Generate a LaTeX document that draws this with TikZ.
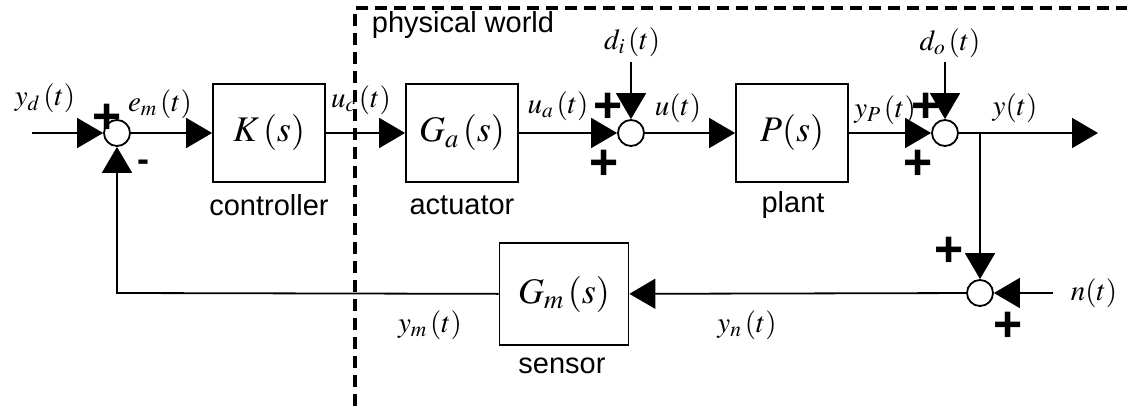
\documentclass[tikz,border=0pt]{standalone}
\usepackage{mathptmx}
\usepackage{fontspec}
\setmainfont{Liberation Sans}
\usetikzlibrary{arrows.meta, positioning, calc}

\begin{document}
\begin{tikzpicture}[x=1pt, y=-1pt,
  block/.style={draw, line width=1.8pt, minimum width=112pt, minimum height=98pt, inner sep=0pt, font=\fontsize{36}{36}\selectfont},
  sumnode/.style={draw, circle, line width=1.8pt, minimum size=26pt, inner sep=0pt},
  sig/.style={inner sep=0pt, font=\fontsize{29}{29}\selectfont},
  sgn/.style={inner sep=0pt, font=\fontsize{50}{50}\selectfont\bfseries\itshape},
  caption/.style={inner sep=0pt, font=\fontsize{29}{29}\selectfont},
  wire/.style={line width=1.8pt, -{Triangle[length=26pt,width=30pt]}}]
  \useasboundingbox (0,0) rectangle (1127,406);

  % blocks and summing junctions
  \node (K) [block] at (269,133) {$K\,(s)$};
  \node (Ga) [block] at (462,133) {$G_a\,(s)$};
  \node (P) [block] at (792,133) {$P(s)$};
  \node (Gm) [block, minimum width=129pt, minimum height=102pt] at (564,294) {$G_m\,(s)$};
  \node (s1) [sumnode] at (117,133) {};
  \node (s2) [sumnode] at (631,133) {};
  \node (s3) [sumnode] at (945,133) {};
  \node (s4) [sumnode] at (980,293) {};

  \node (ctrl) [caption] at (269,205) {controller};
  \node (act) [caption] at (462,205) {actuator};
  \node (plant) [caption] at (793,205) {plant};
  \node (sens) [caption] at (562,366) {sensor};
  \node (phys) [caption] at (463,25) {physical world};

  % signals
  \node (yd) [sig] at (45,98) {$y_d\,(t)$};
  \node (em) [sig] at (160,104) {$e_m\,(t)$};
  \node (uc) [sig] at (361,100) {$u_c\,(t)$};
  \node (ua) [sig] at (558,106) {$u_a\,(t)$};
  \node (u) [sig] at (678,108) {$u(t)$};
  \node (yP) [sig] at (885,110) {$y_P\,(t)$};
  \node (y) [sig] at (1015,108) {$y(t)$};
  \node (di) [sig] at (632,42) {$d_i\,(t)$};
  \node (do) [sig] at (950,43) {$d_o\,(t)$};
  \node (ym) [sig] at (430,325) {$y_m\,(t)$};
  \node (yn) [sig] at (747,325) {$y_n\,(t)$};
  \node (n) [sig] at (1094,293) {$n(t)$};

  % signs
  \node (p1) [sgn] at (106,119) {+};
  \node (m1) [sgn, font=\fontsize{36}{36}\selectfont\bfseries] at (143,166) {-};
  \node (p2) [sgn] at (607,108) {+};
  \node (p3) [sgn] at (603,165) {+};
  \node (p4) [sgn] at (925,108) {+};
  \node (p5) [sgn] at (917,165) {+};
  \node (p6) [sgn] at (948,252) {+};
  \node (p7) [sgn] at (1007,327) {+};

  \coordinate (in) at (32,133);
  \coordinate (out) at (1098,133);
  \coordinate (br) at (980,133);
  \coordinate (fb) at (117,293);
  \coordinate (ni) at (1053,293);
  \coordinate (dit) at (631,62);
  \coordinate (dot) at (945,62);

  \draw[wire] (in) -- (s1);
  \draw[wire] (s1) -- (K);
  \draw[wire] (K) -- (Ga);
  \draw[wire] (Ga) -- (s2);
  \draw[wire] (s2) -- (P);
  \draw[wire] (P) -- (s3);
  \draw[wire] (s3) -- (out);
  \draw[wire] (dit) -- (s2);
  \draw[wire] (dot) -- (s3);
  \draw[wire] (br) -- (s4);
  \draw[wire] (ni) -- (s4);
  \draw[wire] (s4) -- (Gm);
  \draw[wire] (Gm) -- (fb) -- (s1);

  % boundary of the physical world
  \draw[line width=3.5pt, dash pattern=on 12pt off 7pt] (355,406) -- (355,8) -- (1127,8);
\end{tikzpicture}
\end{document}
